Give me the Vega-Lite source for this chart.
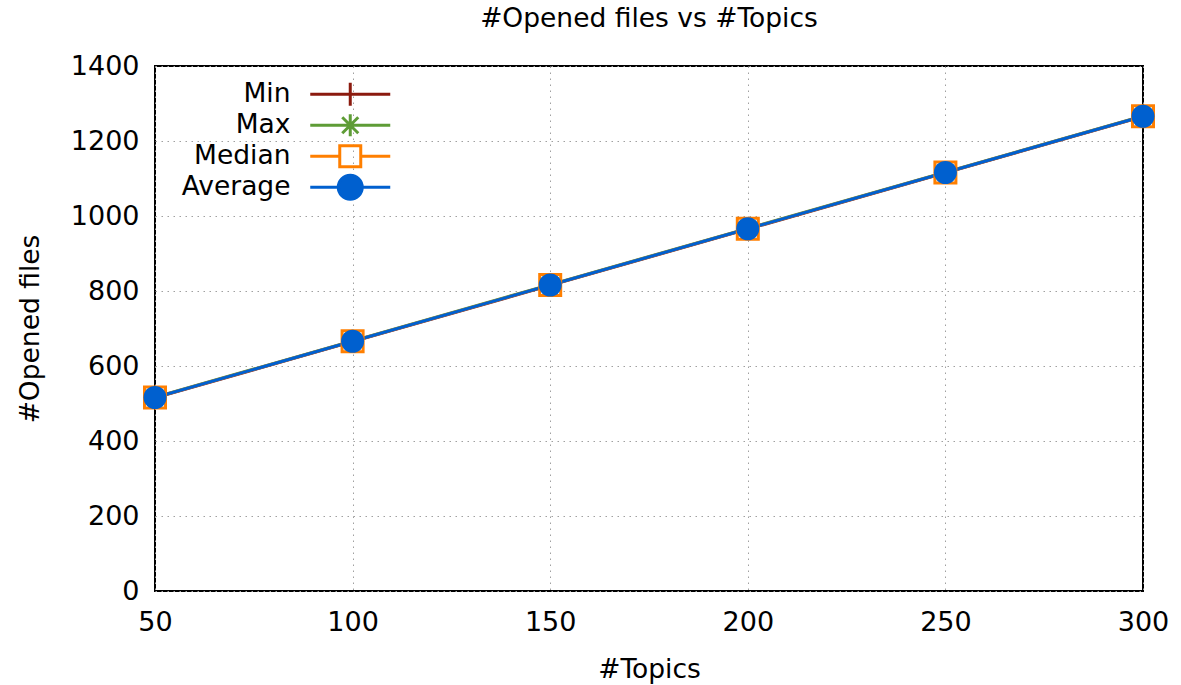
{
  "$schema": "https://vega.github.io/schema/vega-lite/v6.json",
  "autosize": "none",
  "width": 988,
  "height": 525,
  "padding": {"left": 155, "top": 66, "right": 38, "bottom": 94},
  "background": "white",
  "title": {"text": "#Opened files vs #Topics", "font": "DejaVu Sans", "fontSize": 26.5, "fontWeight": "normal", "color": "black", "offset": 20},
  "config": {
    "view": {"stroke": "black", "strokeWidth": 2},
    "axis": {"labelFont": "DejaVu Sans", "titleFont": "DejaVu Sans", "labelFontSize": 27, "titleFontSize": 26.5, "titleFontWeight": "normal", "labelColor": "black", "titleColor": "black", "domain": false, "ticks": false, "grid": true, "gridColor": "#a0a0a0", "gridDash": [1.5, 4.5], "gridWidth": 1, "labelFlush": false, "labelOverlap": false},
    "legend": {"labelFont": "DejaVu Sans", "labelFontSize": 26.5, "labelColor": "black"}
  },
  "data": {"values": [
    {"series": "Min", "topics": 50, "files": 515},
    {"series": "Min", "topics": 100, "files": 665},
    {"series": "Min", "topics": 150, "files": 815},
    {"series": "Min", "topics": 200, "files": 965},
    {"series": "Min", "topics": 250, "files": 1115},
    {"series": "Min", "topics": 300, "files": 1265},
    {"series": "Max", "topics": 50, "files": 517},
    {"series": "Max", "topics": 100, "files": 667},
    {"series": "Max", "topics": 150, "files": 817},
    {"series": "Max", "topics": 200, "files": 967},
    {"series": "Max", "topics": 250, "files": 1117},
    {"series": "Max", "topics": 300, "files": 1267},
    {"series": "Median", "topics": 50, "files": 516},
    {"series": "Median", "topics": 100, "files": 666},
    {"series": "Median", "topics": 150, "files": 816},
    {"series": "Median", "topics": 200, "files": 966},
    {"series": "Median", "topics": 250, "files": 1116},
    {"series": "Median", "topics": 300, "files": 1266},
    {"series": "Average", "topics": 50, "files": 516},
    {"series": "Average", "topics": 100, "files": 666},
    {"series": "Average", "topics": 150, "files": 816},
    {"series": "Average", "topics": 200, "files": 966},
    {"series": "Average", "topics": 250, "files": 1116},
    {"series": "Average", "topics": 300, "files": 1266}
  ]},
  "encoding": {
    "x": {"field": "topics", "type": "quantitative", "scale": {"domain": [50, 300], "nice": false, "zero": false},
          "axis": {"values": [50, 100, 150, 200, 250, 300], "title": "#Topics", "labelPadding": 18, "titlePadding": 21}},
    "y": {"field": "files", "type": "quantitative", "scale": {"domain": [0, 1400], "nice": false},
          "axis": {"values": [0, 200, 400, 600, 800, 1000, 1200, 1400], "format": "d", "title": "#Opened files", "labelPadding": 16, "titlePadding": 26}}
  },
  "layer": [
    {"mark": {"type": "line", "strokeWidth": 3},
     "encoding": {
       "color": {"field": "series", "type": "nominal",
              "scale": {"domain": ["Min", "Max", "Median", "Average"], "range": ["#8b1a0e", "#5e9c36", "#ff7f00", "#0060cf"]},
              "legend": {"title": null, "orient": "none", "legendX": 182, "legendY": 15, "padding": 0,
                         "labelAlign": "right", "labelOffset": -73, "symbolSize": 100, "rowPadding": -4,
                         "encode": {"symbols": {"update": {
                           "shape": {"signal": "datum.value === 'Min' ? 'M-8,0H8M0,-2.3V2.3' : datum.value === 'Max' ? 'M-8,0H8M-2.2,0H2.2M0,-2.2V2.2M-1.6,-1.6L1.6,1.6M-1.6,1.6L1.6,-1.6' : datum.value === 'Median' ? 'M-8,0H-2.1M2.1,0H8M-2.1,-2.1H2.1V2.1H-2.1Z' : 'M-8,0H8M-2.4,0A2.4,2.4 0 1,0 2.4,0A2.4,2.4 0 1,0 -2.4,0Z'"},
                           "fill": {"signal": "datum.value === 'Average' ? '#0060cf' : 'transparent'"},
                           "strokeWidth": {"value": 3},
                           "opacity": {"value": 1}
                         }}}}}
     }},
    {"transform": [{"filter": "datum.series === 'Min'"}],
     "mark": {"type": "point", "shape": "M-1,0H1M0,-1V1", "filled": false, "strokeWidth": 2.5, "size": 500, "opacity": 1, "color": "#8b1a0e"}},
    {"transform": [{"filter": "datum.series === 'Max'"}],
     "mark": {"type": "point", "shape": "M-1,0H1M0,-1V1M-0.7,-0.7L0.7,0.7M-0.7,0.7L0.7,-0.7", "filled": false, "strokeWidth": 2.5, "size": 500, "opacity": 1, "color": "#5e9c36"}},
    {"transform": [{"filter": "datum.series === 'Median'"}],
     "mark": {"type": "point", "shape": "square", "filled": false, "strokeWidth": 3, "size": 441, "opacity": 1, "color": "#ff7f00"}},
    {"transform": [{"filter": "datum.series === 'Average'"}],
     "mark": {"type": "point", "shape": "circle", "filled": true, "size": 529, "opacity": 1, "color": "#0060cf"}}
  ]
}
